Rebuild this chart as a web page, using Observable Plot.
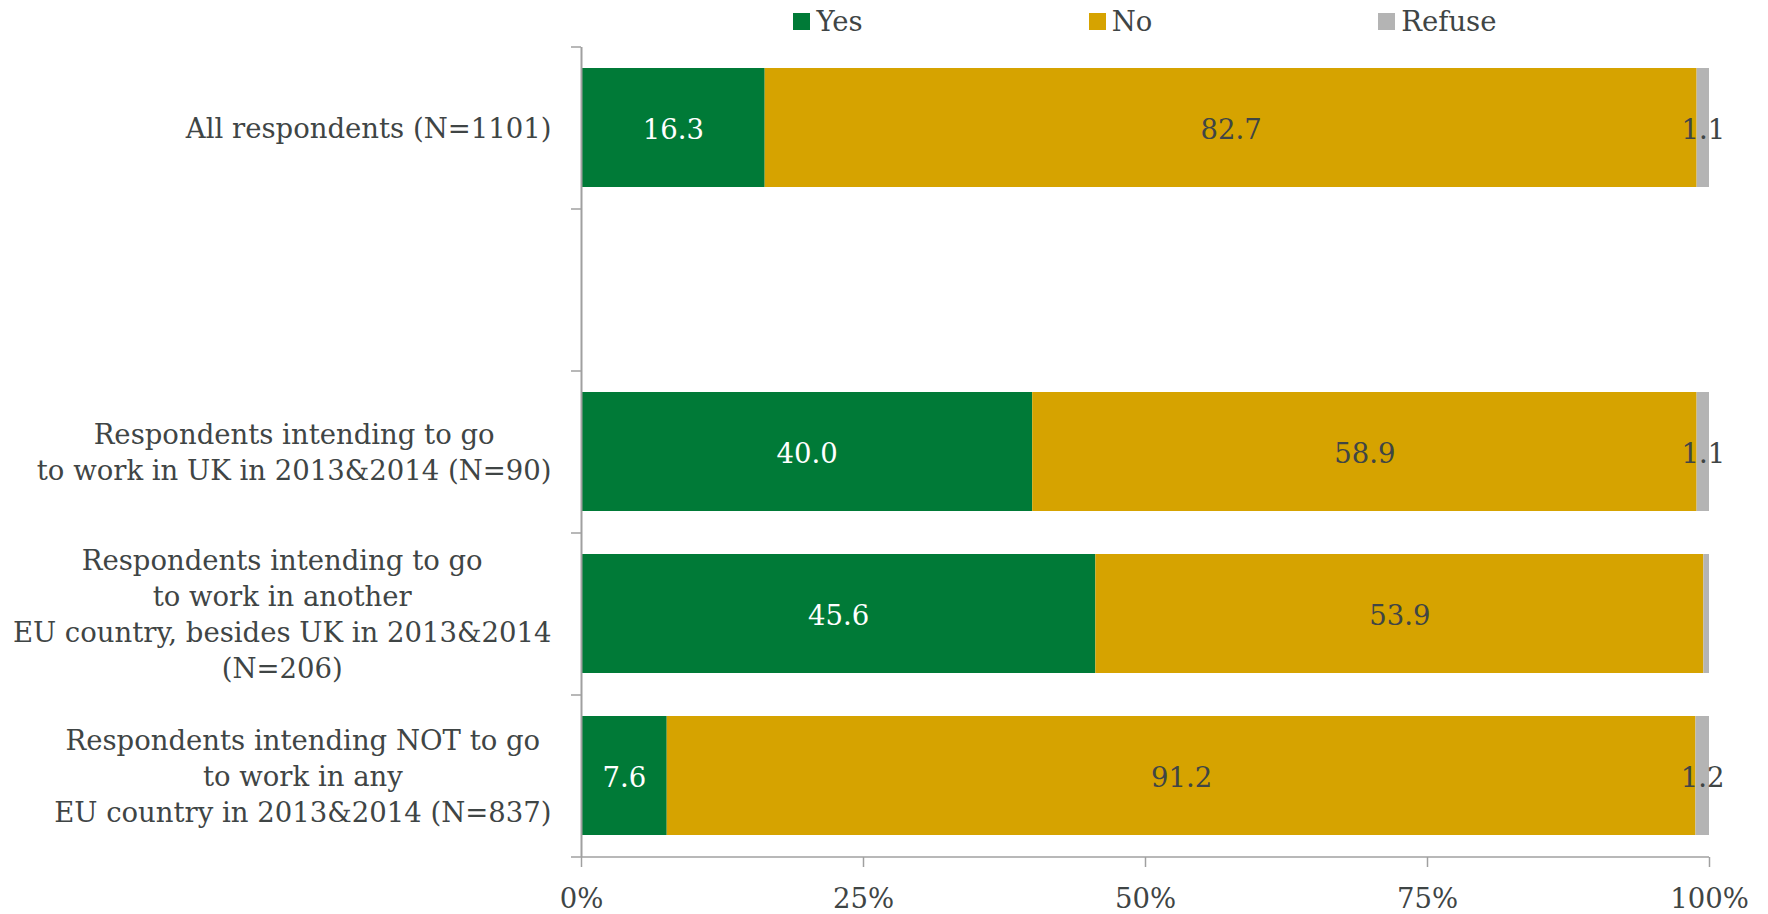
<!DOCTYPE html>
<html><head><meta charset="utf-8">
<script src="https://cdn.jsdelivr.net/npm/d3@7"></script>
<script src="https://cdn.jsdelivr.net/npm/@observablehq/plot@0.6"></script>
<style>
body{margin:0;background:#fff;font-family:"DejaVu Serif";}
#legend{display:flex;justify-content:center;align-items:center;gap:226px;height:40px;padding-top:2px;box-sizing:border-box;margin-left:581px;width:1128px;font-size:27.5px;color:#3f4545;}
.item{display:flex;align-items:center;gap:6px;}
.sw{width:17px;height:17px;display:inline-block;}
</style></head><body>
<div id="legend"></div>
<div id="chart"></div>
<script>
// ---- data ----
const GAP = "__gap__";
const categories = [
  "All respondents (N=1101)",
  "Respondents intending to go\nto work in UK in 2013&2014 (N=90)",
  "Respondents intending to go\nto work in another\nEU country, besides UK in 2013&2014\n(N=206)",
  "Respondents intending NOT to go\nto work in any\nEU country in 2013&2014 (N=837)"
];
const rowOrder = [categories[0], GAP, categories[1], categories[2], categories[3]];
const seriesNames = ["Yes", "No", "Refuse"];
const yesValues = [16.3, 40.0, 45.6, 7.6];
const noValues = [82.7, 58.9, 53.9, 91.2];
const refuseValues = [1.1, 1.1, 0.5, 1.2];
const xTicks = [0, 0.25, 0.5, 0.75, 1];
const seriesColors = ["#007a37", "#d6a300", "#b4b4b4"];

// ---- styles ----
const textColor = "#3f4545";
const axisGray = "#a0a0a0";
const fontSize = 27.5;
const W = 1768, H = 874, mL = 581, mR = 59, mT = 7, mB = 57;
const step = (H - mT - mB) / rowOrder.length;

const rows = [];
categories.forEach((c, i) => {
  rows.push({cat: c, series: "Yes", value: yesValues[i]});
  rows.push({cat: c, series: "No", value: noValues[i]});
  rows.push({cat: c, series: "Refuse", value: refuseValues[i]});
});

// legend
const legend = document.getElementById("legend");
seriesNames.forEach((s, i) => {
  const it = document.createElement("div"); it.className = "item";
  const sw = document.createElement("span"); sw.className = "sw"; sw.style.background = seriesColors[i];
  const tx = document.createElement("span"); tx.textContent = s;
  it.appendChild(sw); it.appendChild(tx); legend.appendChild(it);
});

// measure label widths
const ctx = document.createElement("canvas").getContext("2d");
ctx.font = `${fontSize}px "DejaVu Serif"`;
const labelGap = 30;
const labelMarks = categories.map(c => {
  const w = d3.max(c.split("\n"), l => ctx.measureText(l).width);
  return Plot.text([c], {
    y: d => d, text: d => d, frameAnchor: "left", textAnchor: "middle",
    dx: -(labelGap + w / 2), dy: -2, lineHeight: 1.31, fontSize, fill: textColor
  });
});

const fmt = v => v.toFixed(1);
const stackOpts = {x: "value", y: "cat", z: "series", order: seriesNames, offset: "normalize"};

const chart = Plot.plot({
  width: W, height: H,
  marginLeft: mL, marginRight: mR, marginTop: mT, marginBottom: mB,
  style: {fontFamily: "DejaVu Serif", fontSize: fontSize + "px", color: textColor, background: "#fff"},
  x: {domain: [0, 1]},
  y: {domain: rowOrder, paddingInner: 0.265, paddingOuter: 0.1325, axis: null},
  color: {domain: seriesNames, range: seriesColors},
  marks: [
    Plot.barX(rows, Plot.stackX({...stackOpts, fill: "series"})),
    Plot.text(rows, Plot.stackX({...stackOpts,
      text: d => d.series === "Yes" ? fmt(d.value) : null,
      fill: "white", fontSize, dy: 2})),
    Plot.text(rows, Plot.stackX({...stackOpts,
      text: d => d.series === "Yes" || d.value < 1 ? null : fmt(d.value),
      fill: textColor, fontSize, dy: 2})),
    Plot.ruleX([0], {stroke: axisGray, strokeWidth: 2}),
    Plot.ruleY(rowOrder, {y: d => d, x1: 0, x2: 0, insetLeft: -10, dy: -step / 2, stroke: axisGray, strokeWidth: 1.5}),
    Plot.ruleY([rowOrder[rowOrder.length - 1]], {y: d => d, x1: 0, x2: 1, insetLeft: -10, dy: step / 2, stroke: axisGray, strokeWidth: 1.5}),
    Plot.axisX({ticks: xTicks, tickFormat: d3.format(".0%"), tickSize: 10, tickPadding: 21,
      stroke: axisGray, strokeWidth: 1.5, fill: textColor, fontSize, label: null}),
    ...labelMarks
  ]
});
document.getElementById("chart").appendChild(chart);
</script>
</body></html>
